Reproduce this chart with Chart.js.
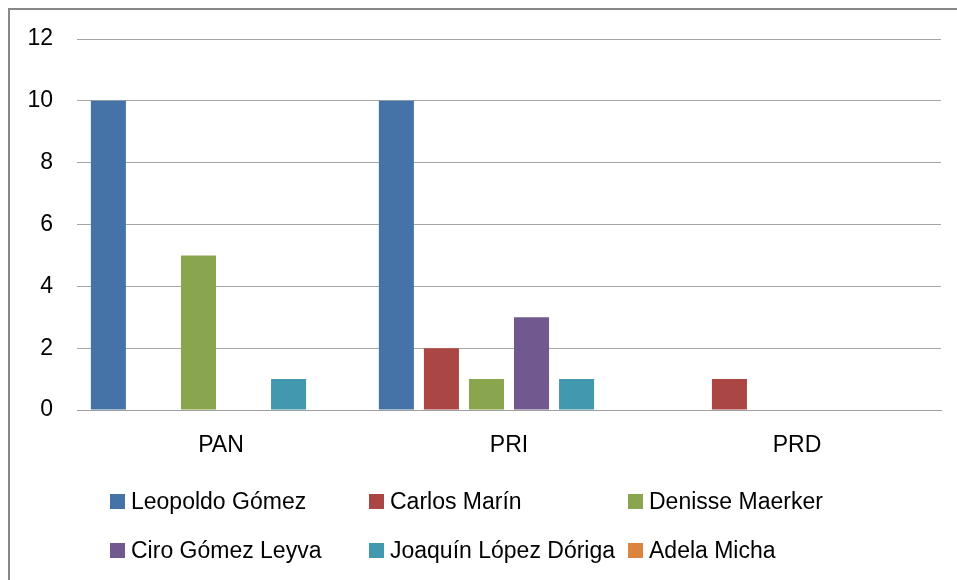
<!DOCTYPE html>
<html>
<head>
<meta charset="utf-8">
<script src="https://cdn.jsdelivr.net/npm/chart.js@4/dist/chart.umd.min.js"></script>
<style>
  html, body { margin: 0; padding: 0; background: #fff; }
  #wrap { width: 957px; height: 580px; position: relative; }
</style>
</head>
<body>
<div id="wrap"><canvas id="chart" width="957" height="580"></canvas></div>
<script>
const categories = ['PAN', 'PRI', 'PRD'];
const seriesNames = ['Leopoldo Gómez', 'Carlos Marín', 'Denisse Maerker', 'Ciro Gómez Leyva', 'Joaquín López Dóriga', 'Adela Micha'];
const leopoldo = [10, 10, 0];
const carlos = [0, 2, 1];
const denisse = [5, 1, 0];
const ciro = [0, 3, 0];
const joaquin = [1, 1, 0];
const adela = [0, 0, 0];
const yTicks = [0, 2, 4, 6, 8, 10, 12];
const colors = ['#4572A7', '#AA4643', '#89A54E', '#71588F', '#4198AF', '#DB843D'];

const fontFamily = '"Liberation Sans", Arial, sans-serif';
const allValues = [leopoldo, carlos, denisse, ciro, joaquin, adela];

const datasets = seriesNames.map((name, i) => ({
    label: name,
    data: allValues[i],
    backgroundColor: colors[i],
    borderWidth: 0,
    categoryPercentage: 0.9385,
    barPercentage: 0.778
}));

// border round the chart and the legend in a 3 x 2 grid
const frameAndLegend = {
    id: 'frameAndLegend',
    beforeDraw(chart) {
        const ctx = chart.ctx;
        ctx.save();
        ctx.fillStyle = '#fff';
        ctx.fillRect(0, 0, chart.width, chart.height);
        ctx.strokeStyle = '#888';
        ctx.lineWidth = 2;
        ctx.strokeRect(9, 9, 1200, 1200);
        ctx.restore();
    },
    afterDraw(chart) {
        const ctx = chart.ctx;
        const colX = [110, 369, 628];
        const rowY = [502, 551];
        ctx.save();
        ctx.font = '23px ' + fontFamily;
        ctx.textBaseline = 'middle';
        ctx.textAlign = 'left';
        seriesNames.forEach((name, i) => {
            const x = colX[i % 3];
            const y = rowY[Math.floor(i / 3)];
            ctx.fillStyle = colors[i];
            ctx.fillRect(x, y - 8, 15, 15);
            ctx.fillStyle = '#000';
            ctx.fillText(name, x + 21, y + 1);
        });
        ctx.restore();
    }
};

new Chart(document.getElementById('chart'), {
    type: 'bar',
    data: { labels: categories, datasets: datasets },
    options: {
        responsive: false,
        animation: false,
        layout: { padding: { top: 39, right: 16, left: 0, bottom: 0 } },
        plugins: {
            legend: { display: false },
            tooltip: { enabled: false }
        },
        scales: {
            x: {
                grid: { display: false },
                border: { display: true, color: '#a0a0a0', width: 1 },
                ticks: { color: '#000', padding: 14, font: { family: fontFamily, size: 23 } },
                afterFit: (scale) => { scale.height = 170; }
            },
            y: {
                min: 0,
                max: 12,
                afterBuildTicks: (scale) => { scale.ticks = yTicks.map(v => ({ value: v })); },
                grid: { color: '#a6a6a6', lineWidth: 1, drawTicks: false },
                border: { display: false },
                ticks: { color: '#000', padding: 24, font: { family: fontFamily, size: 23 } },
                afterFit: (scale) => { scale.width = 77; }
            }
        }
    },
    plugins: [frameAndLegend]
});
</script>
</body>
</html>
